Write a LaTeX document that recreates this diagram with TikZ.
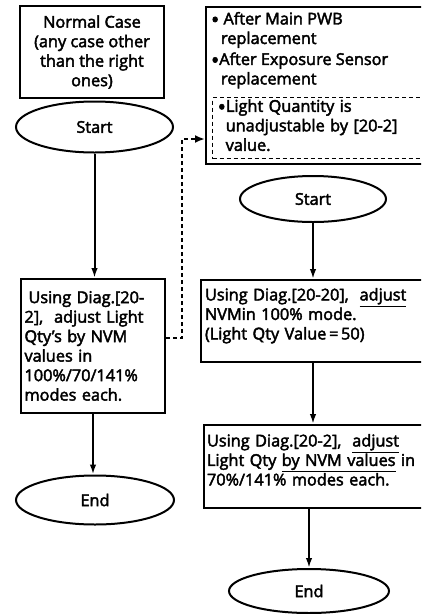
\documentclass[tikz,border=0pt]{standalone}
\usepackage{fontspec}
\setmainfont{Open Sans}[FakeBold=2.6]
\usetikzlibrary{shapes.geometric,arrows.meta,positioning}
\newcommand{\dotmark}{\raisebox{-3pt}[0pt][0pt]{\scalebox{1.35}{\textbullet}}}

\begin{document}
\begin{tikzpicture}[x=1pt, y=-1pt, line width=2pt,
    box/.style = {draw, rectangle, inner sep=0pt},
    term/.style = {draw, ellipse, inner sep=0pt},
    flow/.style = {-{Latex[length=10pt, width=6.5pt]}},
    dashlink/.style = {dashed, dash pattern=on 4pt off 3pt, -{Latex[length=10pt, width=8pt]}}]
    \fontsize{16.3}{19.5}\selectfont

    \useasboundingbox (0,0) rectangle (421,614);
    \clip (0,0) rectangle (421,614);

    % Left column: normal case
    \node[box, minimum width=144, minimum height=92, align=center] (normal) at (92,52)
        {Normal Case\\(any case other\\than the right\\ones)};
    \node[term, minimum width=157, minimum height=51] (startL) at (94.5,127) {Start};
    \node[box, minimum width=144, minimum height=134, align=left, text width=137] (diagL) at (93,346)
        {\hspace{4pt}Using Diag.[20-\\2],\ \ adjust Light\\Qty's by NVM\\values in\\100\%/70/141\%\\modes each.};
    \node[term, minimum width=158, minimum height=49] (endL) at (95,500) {End};

    % Right column: after replacement
    \node[box, minimum width=223, minimum height=157, anchor=north west] (cond) at (205,6) {};
    \node[anchor=north west, align=left, inner sep=0pt] (cases) at (210,11)
        {\dotmark\ After Main PWB\\\hspace{10pt}replacement\\[1.5pt]\dotmark After Exposure Sensor\\\hspace{10pt}replacement};
    \node[box, dashed, dash pattern=on 4pt off 3pt, line width=1.4pt, minimum width=220, minimum height=61,
        anchor=north west, align=left, text width=210, inner xsep=4pt] (noadj) at (212,97)
        {\mbox{}\\[-13pt]\dotmark Light Quantity is\\\hspace{8pt}unadjustable by [20-2]\\\hspace{8pt}value.};
    \node[term, minimum width=146, minimum height=46] (startR) at (313,199) {Start};
    \node[box, minimum width=227, minimum height=82, align=left, text width=219] (adjA) at (314.5,321)
        {Using Diag.[20-20],\ \ \underline{adjust}\\NVMin 100\% mode.\\(Light Qty Value\,=\,50)\\[-5pt]\mbox{}};
    \node[box, minimum width=224, minimum height=83, align=left, text width=218] (adjB) at (316,466.5)
        {Using Diag.[20-2],\ \ \underline{adjust}\\Light Qty \underline{by NVM values} in\\70\%/141\% modes each.\\[-6pt]\mbox{}};
    \node[term, minimum width=160, minimum height=44] (endR) at (309,591) {End};

    % Connections
    \draw[flow] (startL.south) -- (startL.south |- diagL.north);
    \draw[flow] (diagL.south) -- (diagL.south |- endL.north);
    \draw[flow] (startR.south) -- (startR.south |- adjA.north);
    \draw[flow] (adjA.south -| startR) -- (adjB.north -| startR);
    \draw[flow] (endR.north |- adjB.south) -- (endR.north);

    % Dashed link to the other case
    \coordinate (turn) at (182,139);
    \draw[dashlink] ([yshift=8pt]diagL.east) -| (turn) -- (cond.west |- turn);
\end{tikzpicture}
\end{document}
